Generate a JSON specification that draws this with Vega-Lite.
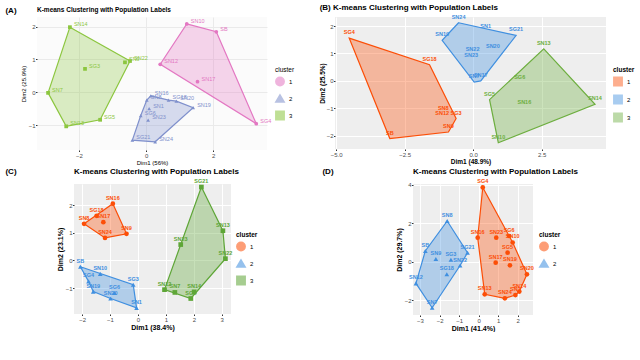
{
  "$schema": "https://vega.github.io/schema/vega-lite/v6.json",
  "padding": {"left": 4, "top": 3, "right": 0, "bottom": 0},
  "background": "white",
  "config": {
    "font": "Liberation Sans",
    "view": {"stroke": null},
    "axis": {"domain": false, "tickColor": "#333333", "tickSize": 1.5, "labelFontSize": 6, "labelColor": "#4D4D4D", "labelPadding": 0.5, "titleFontSize": 6.5, "titleColor": "#000000", "titlePadding": 1.5, "gridColor": "#FFFFFF", "titleFontWeight": "bold"},
    "legend": {"titleFontSize": 6.5, "labelFontSize": 6, "symbolType": "square", "symbolSize": 70, "rowPadding": 2, "titlePadding": 3, "labelOffset": 4},
    "title": {"fontSize": 8, "fontWeight": "bold", "color": "#000000"}
  },
  "datasets": {
    "none": [],
    "A": [
      {"s": "SN14", "c": "3", "x": -2.27, "y": 1.98, "h": 1},
      {"s": "SN22", "c": "3", "x": -0.48, "y": 0.95, "h": 2},
      {"s": "SN9", "c": "3", "x": -0.63, "y": 0.91, "h": null},
      {"s": "SG3", "c": "3", "x": -1.82, "y": 0.71, "h": null},
      {"s": "SG5", "c": "3", "x": -1.37, "y": -0.84, "h": 3},
      {"s": "SN13", "c": "3", "x": -2.38, "y": -1.04, "h": 4},
      {"s": "SN7", "c": "3", "x": -2.92, "y": -0.02, "h": 5},
      {"s": "SN10", "c": "1", "x": 1.21, "y": 2.08, "h": 1},
      {"s": "SB", "c": "1", "x": 2.09, "y": 1.84, "h": 2},
      {"s": "SG4", "c": "1", "x": 3.28, "y": -0.96, "h": 3},
      {"s": "SN12", "c": "1", "x": 0.42, "y": 0.85, "h": 4},
      {"s": "SN17", "c": "1", "x": 1.53, "y": 0.32, "h": null},
      {"s": "SN16", "c": "2", "x": 0.14, "y": -0.11, "h": 1},
      {"s": "SG18", "c": "2", "x": 0.67, "y": -0.24, "h": 2},
      {"s": "SN20", "c": "2", "x": 0.9, "y": -0.27, "h": 3},
      {"s": "SN19", "c": "2", "x": 1.4, "y": -0.47, "h": 4},
      {"s": "SN24", "c": "2", "x": 0.27, "y": -1.51, "h": 5},
      {"s": "SG21", "c": "2", "x": -0.41, "y": -1.46, "h": 6},
      {"s": "SG6", "c": "2", "x": -0.16, "y": -0.71, "h": 7},
      {"s": "SN8", "c": "2", "x": 0.02, "y": -0.24, "h": 8},
      {"s": "SN1", "c": "2", "x": 0.09, "y": -0.5, "h": null},
      {"s": "SN23", "c": "2", "x": 0.06, "y": -0.85, "h": null}
    ],
    "B": [
      {"s": "SG4", "c": "1", "x": -4.52, "y": 1.56, "h": 1},
      {"s": "SG18", "c": "1", "x": -1.59, "y": 0.59, "h": 2},
      {"s": "SG3", "c": "1", "x": -0.62, "y": -1.37, "h": 3},
      {"s": "SN9", "c": "1", "x": -0.9, "y": -1.86, "h": 4},
      {"s": "SB", "c": "1", "x": -3.04, "y": -2.1, "h": 5},
      {"s": "SN8", "c": "1", "x": -1.09, "y": -1.21, "h": null},
      {"s": "SN12", "c": "1", "x": -1.13, "y": -1.39, "h": null},
      {"s": "SN24", "c": "2", "x": -0.53, "y": 2.12, "h": 1},
      {"s": "SG21", "c": "2", "x": 1.57, "y": 1.66, "h": 2},
      {"s": "SN17", "c": "2", "x": 0.28, "y": 0.0, "h": 3},
      {"s": "SN7", "c": "2", "x": 0.04, "y": -0.04, "h": 4},
      {"s": "SN19", "c": "2", "x": -1.13, "y": 1.48, "h": 5},
      {"s": "SN1", "c": "2", "x": 0.46, "y": 1.78, "h": null},
      {"s": "SN22", "c": "2", "x": -0.02, "y": 0.95, "h": null},
      {"s": "SN23", "c": "2", "x": -0.07, "y": 0.71, "h": null},
      {"s": "SN20", "c": "2", "x": 0.72, "y": 1.05, "h": null},
      {"s": "SN13", "c": "3", "x": 2.58, "y": 1.17, "h": 1},
      {"s": "SN14", "c": "3", "x": 4.45, "y": -0.85, "h": 2},
      {"s": "SN10", "c": "3", "x": 0.92, "y": -2.25, "h": 3},
      {"s": "SG5", "c": "3", "x": 0.6, "y": -0.68, "h": 4},
      {"s": "SG6", "c": "3", "x": 1.7, "y": -0.09, "h": null},
      {"s": "SN16", "c": "3", "x": 1.87, "y": -1.0, "h": null}
    ],
    "C": [
      {"s": "SN16", "c": "1", "x": -0.9, "y": 2.05, "h": 1},
      {"s": "SN9", "c": "1", "x": -0.41, "y": 0.96, "h": 2},
      {"s": "SN24", "c": "1", "x": -1.18, "y": 0.81, "h": 3},
      {"s": "SN8", "c": "1", "x": -1.93, "y": 1.32, "h": 4},
      {"s": "SG18", "c": "1", "x": -1.48, "y": 1.61, "h": null},
      {"s": "SN17", "c": "1", "x": -1.24, "y": 1.38, "h": null},
      {"s": "SB", "c": "2", "x": -2.06, "y": -0.23, "h": 1},
      {"s": "SN10", "c": "2", "x": -1.35, "y": -0.49, "h": null},
      {"s": "SG3", "c": "2", "x": -0.17, "y": -0.88, "h": 2},
      {"s": "SN1", "c": "2", "x": -0.05, "y": -1.72, "h": 3},
      {"s": "SN20", "c": "2", "x": -0.98, "y": -1.38, "h": 4},
      {"s": "SN19", "c": "2", "x": -1.6, "y": -1.13, "h": 5},
      {"s": "SG4", "c": "2", "x": -1.77, "y": -0.76, "h": 6},
      {"s": "SG6", "c": "2", "x": -0.84, "y": -1.18, "h": null},
      {"s": "SG21", "c": "3", "x": 2.27, "y": 2.65, "h": 1},
      {"s": "SN13", "c": "3", "x": 3.04, "y": 1.07, "h": 2},
      {"s": "SN22", "c": "3", "x": 3.13, "y": 0.06, "h": 3},
      {"s": "SG5", "c": "3", "x": 1.89, "y": -1.38, "h": 4},
      {"s": "SN12", "c": "3", "x": 0.95, "y": -1.06, "h": 5},
      {"s": "SN23", "c": "3", "x": 1.53, "y": 0.57, "h": 6},
      {"s": "SN7", "c": "3", "x": 1.32, "y": -1.16, "h": null},
      {"s": "SN14", "c": "3", "x": 2.01, "y": -1.14, "h": null}
    ],
    "D": [
      {"s": "SG4", "c": "1", "x": 0.21, "y": 3.87, "h": 1},
      {"s": "SG6", "c": "1", "x": 1.56, "y": 1.34, "h": 2},
      {"s": "SN10", "c": "1", "x": 1.74, "y": 1.0, "h": 3},
      {"s": "SN20", "c": "1", "x": 2.47, "y": -0.66, "h": 4},
      {"s": "SN14", "c": "1", "x": 2.08, "y": -1.56, "h": 5},
      {"s": "SN1", "c": "1", "x": 1.88, "y": -1.74, "h": 6},
      {"s": "SN24", "c": "1", "x": 1.34, "y": -1.91, "h": 7},
      {"s": "SN13", "c": "1", "x": 0.31, "y": -1.7, "h": 8},
      {"s": "SN16", "c": "1", "x": -0.05, "y": 1.25, "h": 9},
      {"s": "SN23", "c": "1", "x": 0.9, "y": 1.25, "h": null},
      {"s": "SG5", "c": "1", "x": 1.48, "y": 0.47, "h": null},
      {"s": "SN17", "c": "1", "x": 0.87, "y": -0.05, "h": null},
      {"s": "SN19", "c": "1", "x": 1.6, "y": -0.19, "h": null},
      {"s": "SN8", "c": "2", "x": -1.61, "y": 2.12, "h": 1},
      {"s": "SG21", "c": "2", "x": -0.57, "y": 0.47, "h": 2},
      {"s": "SN22", "c": "2", "x": -0.95, "y": -0.2, "h": 3},
      {"s": "SN7", "c": "2", "x": -2.38, "y": -2.4, "h": 4},
      {"s": "SN12", "c": "2", "x": -3.21, "y": -1.13, "h": 5},
      {"s": "SB", "c": "2", "x": -2.73, "y": 0.56, "h": 6},
      {"s": "SN9", "c": "2", "x": -2.19, "y": 0.14, "h": null},
      {"s": "SG3", "c": "2", "x": -1.42, "y": 0.1, "h": null},
      {"s": "SG18", "c": "2", "x": -1.63, "y": -0.66, "h": null}
    ]
  },
  "columns": 1,
  "align": "none",
  "spacing": 2,
  "resolve": {"scale": {"color": "independent", "fill": "independent", "shape": "independent"}, "legend": {"color": "independent", "fill": "independent", "shape": "independent"}},
  "concat": [
    {
      "spacing": 0,
      "resolve": {"scale": {"color": "independent", "fill": "independent", "shape": "independent"}, "legend": {"color": "independent", "fill": "independent", "shape": "independent"}},
      "hconcat": [
        {"width": 1, "height": 1, "data": {"name": "none"}, "mark": "point"},
        {
          "title": {"text": "(A)", "orient": "left", "anchor": "end", "angle": 0, "align": "right", "baseline": "top", "offset": -7, "fontSize": 8},
          "hconcat": [
            {
              "width": 230, "height": 133,
              "view": {"fill": "#FBFBFB", "stroke": null},
              "title": {"text": "K-means Clustering with Population Labels", "anchor": "start", "frame": "group", "fontSize": 6.5, "offset": 4},
              "data": {"name": "A"},
              "encoding": {
                "x": {"field": "x", "type": "quantitative", "scale": {"domain": [-3.25, 3.6], "nice": false, "zero": false}, "axis": {"values": [-2, 0, 2], "title": "Dim1 (56%)", "titleFontWeight": "normal", "titleFontSize": 6, "gridColor": "#EAEAEA"}},
                "y": {"field": "y", "type": "quantitative", "scale": {"domain": [-1.76, 2.29], "nice": false, "zero": false}, "axis": {"values": [-1, 0, 1, 2], "title": "Dim2 (25.9%)", "titleFontWeight": "normal", "titleFontSize": 6, "gridColor": "#EAEAEA"}},
                "color": {"field": "c", "type": "nominal", "scale": {"domain": ["1", "2", "3"], "range": ["#E377C2", "#7F90CC", "#8CC63F"]}, "legend": {"orient": "none", "legendX": 238, "legendY": 50, "title": "cluster", "titleFontWeight": "normal", "symbolOpacity": 0.55}}
              },
              "layer": [
                {
                  "transform": [{"filter": "datum.h != null"}],
                  "mark": {"type": "line", "interpolate": "linear-closed", "fillOpacity": 0.3, "strokeWidth": 1.2},
                  "encoding": {"order": {"field": "h", "type": "quantitative"}, "fill": {"field": "c", "type": "nominal", "scale": {"domain": ["1", "2", "3"], "range": ["#E377C2", "#7F90CC", "#8CC63F"]}, "legend": null}}
                },
                {
                  "mark": {"type": "point", "filled": true, "size": 14, "opacity": 1},
                  "encoding": {"shape": {"field": "c", "type": "nominal", "scale": {"domain": ["1", "2", "3"], "range": ["circle", "triangle-up", "square"]}, "legend": null}}
                },
                {
                  "mark": {"type": "text", "fontSize": 5.5, "align": "left", "dx": 4, "dy": -3},
                  "encoding": {"text": {"field": "s"}}
                }
              ]
            }
          ]
        },
        {"width": 24, "height": 1, "data": {"name": "none"}, "mark": "point"},
        {
          "width": 271, "height": 132,
          "view": {"fill": "#EEEEEE", "stroke": null},
          "title": {"text": "(B) K-means Clustering with Population Labels", "anchor": "start", "frame": "bounds", "fontSize": 8, "offset": 3},
          "data": {"name": "B"},
          "encoding": {
            "x": {"field": "x", "type": "quantitative", "scale": {"domain": [-5.04, 4.85], "nice": false, "zero": false}, "axis": {"values": [-5, -2.5, 0, 2.5], "format": ".1f", "title": "Dim1 (48.9%)"}},
            "y": {"field": "y", "type": "quantitative", "scale": {"domain": [-2.48, 2.33], "nice": false, "zero": false}, "axis": {"values": [-2, -1, 0, 1, 2], "title": "Dim2 (25.5%)", "titlePadding": 0.5}},
            "color": {"field": "c", "type": "nominal", "scale": {"domain": ["1", "2", "3"], "range": ["#FC4E07", "#3F8FE0", "#6DAE3F"]}, "legend": {"orient": "none", "legendX": 278, "legendY": 50, "title": "cluster", "symbolOpacity": 0.45}}
          },
          "layer": [
            {
              "transform": [{"filter": "datum.h != null"}],
              "mark": {"type": "line", "interpolate": "linear-closed", "fillOpacity": 0.35, "strokeWidth": 1.2},
              "encoding": {"order": {"field": "h", "type": "quantitative"}, "fill": {"field": "c", "type": "nominal", "scale": {"domain": ["1", "2", "3"], "range": ["#FC4E07", "#3F8FE0", "#6DAE3F"]}, "legend": null}}
            },
            {
              "mark": {"type": "text", "fontSize": 5.5, "fontWeight": "bold", "dy": -6},
              "encoding": {"text": {"field": "s"}}
            }
          ]
        }
      ]
    },
    {
      "spacing": 0,
      "resolve": {"scale": {"color": "independent", "fill": "independent", "shape": "independent"}, "legend": {"color": "independent", "fill": "independent", "shape": "independent"}},
      "hconcat": [
        {"width": 1, "height": 1, "data": {"name": "none"}, "mark": "point"},
        {
          "title": {"text": "(C)", "orient": "left", "anchor": "end", "angle": 0, "align": "right", "baseline": "top", "offset": 29, "fontSize": 8},
          "hconcat": [
            {
              "width": 157, "height": 130,
              "view": {"fill": "#EEEEEE", "stroke": null},
              "title": {"text": "K-means Clustering with Population Labels", "anchor": "start", "frame": "group", "fontSize": 8, "offset": 3},
              "data": {"name": "C"},
              "encoding": {
                "x": {"field": "x", "type": "quantitative", "scale": {"domain": [-2.29, 3.33], "nice": false, "zero": false}, "axis": {"values": [-2, -1, 0, 1, 2, 3], "title": "Dim1 (38.4%)", "titleFontSize": 7}},
                "y": {"field": "y", "type": "quantitative", "scale": {"domain": [-1.94, 2.76], "nice": false, "zero": false}, "axis": {"values": [-1, 0, 1, 2], "title": "Dim2 (23.1%)", "titleFontSize": 7}},
                "color": {"field": "c", "type": "nominal", "scale": {"domain": ["1", "2", "3"], "range": ["#FC4E07", "#3F8FE0", "#5EA637"]}, "legend": {"orient": "none", "legendX": 162, "legendY": 48, "title": "cluster", "symbolOpacity": 0.55}}
              },
              "layer": [
                {
                  "transform": [{"filter": "datum.h != null"}],
                  "mark": {"type": "line", "interpolate": "linear-closed", "fillOpacity": 0.35, "strokeWidth": 1.2},
                  "encoding": {"order": {"field": "h", "type": "quantitative"}, "fill": {"field": "c", "type": "nominal", "scale": {"domain": ["1", "2", "3"], "range": ["#FC4E07", "#3F8FE0", "#5EA637"]}, "legend": null}}
                },
                {
                  "mark": {"type": "point", "filled": true, "size": 22, "opacity": 1},
                  "encoding": {"shape": {"field": "c", "type": "nominal", "scale": {"domain": ["1", "2", "3"], "range": ["circle", "triangle-up", "square"]}, "legend": null}}
                },
                {
                  "mark": {"type": "text", "fontSize": 5.5, "fontWeight": "bold", "dy": -6},
                  "encoding": {"text": {"field": "s"}}
                }
              ]
            }
          ]
        },
        {"width": 64, "height": 1, "data": {"name": "none"}, "mark": "point"},
        {
          "title": {"text": "(D)", "orient": "left", "anchor": "end", "angle": 0, "align": "right", "baseline": "top", "offset": 51, "fontSize": 8},
          "hconcat": [
            {
              "width": 120, "height": 131,
              "view": {"fill": "#EEEEEE", "stroke": null},
              "title": {"text": "K-means Clustering with Population Labels", "anchor": "start", "frame": "group", "fontSize": 8, "offset": 3},
              "data": {"name": "D"},
              "encoding": {
                "x": {"field": "x", "type": "quantitative", "scale": {"domain": [-3.36, 2.78], "nice": false, "zero": false}, "axis": {"values": [-3, -2, -1, 0, 1, 2], "title": "Dim1 (41.4%)", "titleFontSize": 7}},
                "y": {"field": "y", "type": "quantitative", "scale": {"domain": [-2.78, 4.05], "nice": false, "zero": false}, "axis": {"values": [-2, 0, 2, 4], "title": "Dim2 (29.7%)", "titleFontSize": 7}},
                "color": {"field": "c", "type": "nominal", "scale": {"domain": ["1", "2"], "range": ["#FC4E07", "#3F8FE0"]}, "legend": {"orient": "none", "legendX": 126, "legendY": 48, "title": "cluster", "symbolOpacity": 0.55}}
              },
              "layer": [
                {
                  "transform": [{"filter": "datum.h != null"}],
                  "mark": {"type": "line", "interpolate": "linear-closed", "fillOpacity": 0.35, "strokeWidth": 1.2},
                  "encoding": {"order": {"field": "h", "type": "quantitative"}, "fill": {"field": "c", "type": "nominal", "scale": {"domain": ["1", "2"], "range": ["#FC4E07", "#3F8FE0"]}, "legend": null}}
                },
                {
                  "mark": {"type": "point", "filled": true, "size": 22, "opacity": 1},
                  "encoding": {"shape": {"field": "c", "type": "nominal", "scale": {"domain": ["1", "2"], "range": ["circle", "triangle-up"]}, "legend": null}}
                },
                {
                  "mark": {"type": "text", "fontSize": 5.5, "fontWeight": "bold", "dy": -6},
                  "encoding": {"text": {"field": "s"}}
                }
              ]
            }
          ]
        }
      ]
    }
  ]
}
